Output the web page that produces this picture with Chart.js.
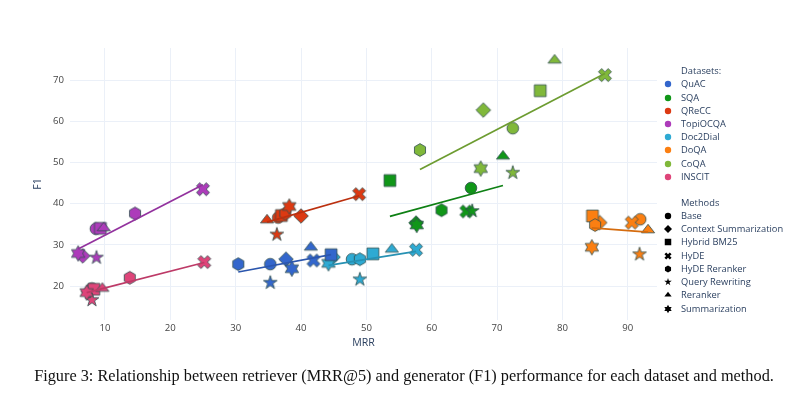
<!DOCTYPE html>
<html><head><meta charset="utf-8">
<script src="https://cdn.jsdelivr.net/npm/chart.js@4.4.1/dist/chart.umd.min.js"></script>
<style>
html,body{margin:0;padding:0;background:#fff;}
#wrap{position:relative;width:800px;height:405px;overflow:hidden;background:#fff;}
#chart{position:absolute;left:0;top:0;}
.lg{position:absolute;height:14px;line-height:14px;white-space:nowrap;font-family:'Open Sans';font-size:9.3px;color:#2a3f5f;}
.lgsym{position:absolute;}
#caption{position:absolute;left:4px;top:368px;width:800px;text-align:center;font-family:'Liberation Serif';font-size:16.3px;line-height:16px;color:#111;white-space:nowrap;}
</style>
</head><body>
<div id="wrap">
<canvas id="chart" width="800" height="405"></canvas>
<div id="legend"></div>
<div id="caption">Figure 3: Relationship between retriever (MRR@5) and generator (F1) performance for each dataset and method.</div>
</div>
<script>
// ---- categories ----
const DATASETS = ['QuAC','SQA','QReCC','TopiOCQA','Doc2Dial','DoQA','CoQA','INSCIT'];
const DATASET_COLORS = ['#3366CC','#109618','#DC3912','#AD3BBA','#2EAAD3','#FB7F12','#80B83A','#DE4479'];
const TREND_COLORS = ['#2B56AD','#0E8014','#BB300F','#93329E','#2791B3','#D56C0F','#6D9C31','#BD3A67'];
const METHODS = ['Base','Context Summarization','Hybrid BM25','HyDE','HyDE Reranker','Query Rewriting','Reranker','Summarization'];
const METHOD_SHAPES = ['circle','diamond','square','x','hexagon','star','triangle','hexagram'];
const X_TICKS = [10,20,30,40,50,60,70,80,90];
const Y_TICKS = [20,30,40,50,60,70];

// ---- series values (method order as METHODS) ----
const QUAC_MRR = [35.3, 37.7, 44.6, 41.9, 30.4, 35.3, 41.5, 38.6];
const QUAC_F1  = [25.3, 26.5, 27.6, 26.2, 25.3, 20.8, 29.4, 24.2];
const SQA_MRR  = [66.0, 57.6, 53.6, 65.3, 61.5, 66.2, 70.9, 57.7];
const SQA_F1   = [43.8, 35.3, 45.6, 38.1, 38.4, 38.2, 51.5, 34.8];
const QRECC_MRR = [36.5, 40.0, 37.0, 48.9, 37.6, 36.3, 34.8, 38.2];
const QRECC_F1  = [36.6, 37.0, 37.1, 42.3, 37.6, 32.5, 36.0, 39.3];
const TOPIOCQA_MRR = [8.6, 6.6, 9.3, 25.0, 14.6, 8.7, 9.8, 5.9];
const TOPIOCQA_F1  = [33.9, 27.3, 34.0, 43.5, 37.6, 26.9, 34.1, 27.9];
const DOC2DIAL_MRR = [47.8, 44.9, 51.0, 57.6, 49.0, 49.0, 53.9, 44.2];
const DOC2DIAL_F1  = [26.5, 27.0, 27.8, 28.8, 26.5, 21.6, 28.9, 25.5];
const DOQA_MRR = [91.9, 85.7, 84.6, 90.6, 85.0, 91.8, 93.1, 84.5];
const DOQA_F1  = [36.2, 35.4, 37.0, 35.4, 34.8, 27.7, 33.6, 29.4];
const COQA_MRR = [72.4, 67.9, 76.6, 86.5, 58.2, 72.4, 78.8, 67.5];
const COQA_F1  = [58.3, 62.7, 67.4, 71.2, 53.0, 47.5, 74.8, 48.5];
const INSCIT_MRR = [8.0, 7.5, 8.3, 25.2, 13.8, 8.0, 9.6, 7.2];
const INSCIT_F1  = [19.4, 18.6, 19.2, 25.8, 22.0, 16.6, 19.4, 18.4];

// ---- trend line end points ----
const QUAC_TREND_MRR = [30.4, 44.6];     const QUAC_TREND_F1 = [23.4, 27.6];
const SQA_TREND_MRR = [53.6, 70.9];      const SQA_TREND_F1 = [36.9, 44.4];
const QRECC_TREND_MRR = [34.8, 48.9];    const QRECC_TREND_F1 = [35.5, 41.9];
const TOPIOCQA_TREND_MRR = [5.9, 25.0];  const TOPIOCQA_TREND_F1 = [29.0, 44.6];
const DOC2DIAL_TREND_MRR = [44.2, 57.6]; const DOC2DIAL_TREND_F1 = [25.0, 28.4];
const DOQA_TREND_MRR = [84.5, 93.1];     const DOQA_TREND_F1 = [34.1, 33.1];
const COQA_TREND_MRR = [58.2, 86.5];     const COQA_TREND_F1 = [48.3, 71.6];
const INSCIT_TREND_MRR = [7.2, 25.2];    const INSCIT_TREND_F1 = [18.4, 25.7];

const SERIES_MRR = [QUAC_MRR, SQA_MRR, QRECC_MRR, TOPIOCQA_MRR, DOC2DIAL_MRR, DOQA_MRR, COQA_MRR, INSCIT_MRR];
const SERIES_F1  = [QUAC_F1, SQA_F1, QRECC_F1, TOPIOCQA_F1, DOC2DIAL_F1, DOQA_F1, COQA_F1, INSCIT_F1];
const TREND_MRR = [QUAC_TREND_MRR, SQA_TREND_MRR, QRECC_TREND_MRR, TOPIOCQA_TREND_MRR, DOC2DIAL_TREND_MRR, DOQA_TREND_MRR, COQA_TREND_MRR, INSCIT_TREND_MRR];
const TREND_F1  = [QUAC_TREND_F1, SQA_TREND_F1, QRECC_TREND_F1, TOPIOCQA_TREND_F1, DOC2DIAL_TREND_F1, DOQA_TREND_F1, COQA_TREND_F1, INSCIT_TREND_F1];

// ---- marker shapes ----
function shapePath(ctx, shape, k){
  ctx.beginPath();
  if (shape==='circle'){ ctx.arc(0,0,5.8*k,0,Math.PI*2); }
  else if (shape==='diamond'){ const d=7.3*k; ctx.moveTo(0,-d);ctx.lineTo(d,0);ctx.lineTo(0,d);ctx.lineTo(-d,0);ctx.closePath(); }
  else if (shape==='square'){ const s=5.9*k; ctx.rect(-s,-s,2*s,2*s); }
  else if (shape==='x'){ const a=3.25*k; const p=[[0,a],[a,2*a],[2*a,a],[a,0],[2*a,-a],[a,-2*a],[0,-a],[-a,-2*a],[-2*a,-a],[-a,0],[-2*a,a],[-a,2*a]];
    ctx.moveTo(p[0][0],p[0][1]); for(let i=1;i<p.length;i++) ctx.lineTo(p[i][0],p[i][1]); ctx.closePath(); }
  else if (shape==='hexagon'){ const rs=6.4*k, x=rs*0.866; ctx.moveTo(x,-rs/2);ctx.lineTo(x,rs/2);ctx.lineTo(0,rs);ctx.lineTo(-x,rs/2);ctx.lineTo(-x,-rs/2);ctx.lineTo(0,-rs);ctx.closePath(); }
  else if (shape==='star'){ const rs=7.2*k; const p=[[0.225,-0.309],[0.951,-0.309],[0.363,0.118],[0.588,0.809],[0,0.382],[-0.588,0.809],[-0.363,0.118],[-0.951,-0.309],[-0.225,-0.309],[0,-1]];
    ctx.moveTo(p[0][0]*rs,p[0][1]*rs); for(let i=1;i<p.length;i++) ctx.lineTo(p[i][0]*rs,p[i][1]*rs); ctx.closePath(); }
  else if (shape==='triangle'){ const r=5.7*k, rt=r*2/Math.sqrt(3); ctx.moveTo(-rt,r/2);ctx.lineTo(rt,r/2);ctx.lineTo(0,-r);ctx.closePath(); }
  else if (shape==='hexagram'){ const R=7.7*k; const pts=[];
    for(let i=0;i<12;i++){ const ang=-Math.PI/2+i*Math.PI/6; const rr=(i%2===0)?R:R/Math.sqrt(3); pts.push([rr*Math.cos(ang), rr*Math.sin(ang)]); }
    ctx.moveTo(pts[0][0],pts[0][1]); for(let i=1;i<12;i++) ctx.lineTo(pts[i][0],pts[i][1]); ctx.closePath(); }
}
function makeMarker(color, shape, k, stroke){
  const c=document.createElement('canvas'); c.width=22; c.height=22;
  const ctx=c.getContext('2d'); ctx.translate(11,11);
  shapePath(ctx, shape, k);
  ctx.fillStyle=color; ctx.fill();
  if (stroke){ ctx.lineWidth=1; ctx.strokeStyle='rgba(47,79,79,0.8)'; ctx.stroke(); }
  return c;
}

const datasets=[];
DATASETS.forEach((name,i)=>{
  const imgs = METHOD_SHAPES.map(s=>makeMarker(DATASET_COLORS[i], s, 1, true));
  datasets.push({
    label:name,
    data: SERIES_MRR[i].map((x,j)=>({x:x, y:SERIES_F1[i][j]})),
    pointStyle: imgs, pointRadius:7, pointHoverRadius:7,
    showLine:false, order:2
  });
});
DATASETS.forEach((name,i)=>{
  datasets.push({
    label:name+' trend',
    data: TREND_MRR[i].map((x,j)=>({x:x, y:TREND_F1[i][j]})),
    showLine:true, borderColor:TREND_COLORS[i], borderWidth:1.7,
    pointRadius:0, pointHoverRadius:0, fill:false, order:1
  });
});

new Chart(document.getElementById('chart'), {
  type:'scatter',
  data:{datasets},
  options:{
    responsive:false, animation:false,
    layout:{padding:{left:0,right:143,top:48,bottom:0}},
    plugins:{legend:{display:false}, tooltip:{enabled:false}},
    scales:{
      x:{type:'linear', min:4.65, max:94.47,
        afterFit:s=>{s.height=85;},
        afterBuildTicks:s=>{s.ticks=X_TICKS.map(v=>({value:v}));},
        grid:{color:'#EBF0F8', drawTicks:false, lineWidth:1},
        border:{display:false},
        ticks:{color:'#444', font:{family:'Open Sans', size:9.6}, padding:3, maxRotation:0, autoSkip:false},
        title:{display:true, text:'MRR', color:'#2a3f5f', font:{family:'Open Sans', size:10.6}, padding:{top:0,bottom:55.7}}
      },
      y:{type:'linear', min:11.75, max:77.77,
        afterFit:s=>{s.width=70;},
        afterBuildTicks:s=>{s.ticks=Y_TICKS.map(v=>({value:v}));},
        grid:{color:'#EBF0F8', drawTicks:false, lineWidth:1},
        border:{display:false},
        ticks:{color:'#444', font:{family:'Open Sans', size:9.6}, padding:6, autoSkip:false},
        title:{display:true, text:'F1', color:'#2a3f5f', font:{family:'Open Sans', size:10.6}, padding:{top:31.4,bottom:0}}
      }
    }
  }
});

// ---- legend (HTML) ----
const lg=document.getElementById('legend');
function addRow(cy, text, symCanvas){
  const d=document.createElement('div'); d.className='lg'; d.style.left='681px'; d.style.top=(cy-7)+'px'; d.textContent=text; lg.appendChild(d);
  if (symCanvas){ symCanvas.className='lgsym'; symCanvas.style.left=(667.5-11)+'px'; symCanvas.style.top=(cy-11)+'px'; lg.appendChild(symCanvas); }
}
addRow(71,'Datasets:',null);
DATASETS.forEach((n,i)=>{ addRow(84.3+13.2*i, n, makeMarker(DATASET_COLORS[i],'circle',0.55,false)); });
addRow(203.3,'Methods',null);
METHODS.forEach((n,i)=>{ addRow(216+13.24*i, n, makeMarker('#000',METHOD_SHAPES[i],0.55,false)); });
</script>
</body></html>
